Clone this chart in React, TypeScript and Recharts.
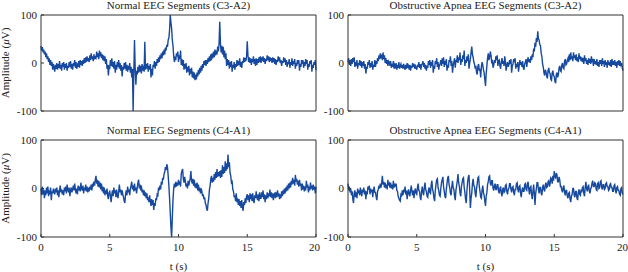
import { LineChart, Line, XAxis, YAxis } from 'recharts';

// sampled every 0.05 s, 0..20 s
const SAMPLE_STEP = 0.05;

const c3Normal = [
  35, 26, 33, 22, 28, 18, 24, 12, 20, 8, 14, 2, 10, -4, 6, -6, 2, -14, -2, -10,
  -18, -4, -12, 0, -14, -2, -10, 4, -12, -4, -16, 0, -8, 2, -14, -2, -10, 0, -16, -6,
  -10, 2, -8, 4, -12, -2, -14, 0, -6, 6, -10, 2, -12, -4, -8, 4, -10, 6, -4, 4,
  -6, 6, -2, 10, 0, 12, 2, 14, 4, 10, 2, 16, 6, 20, 8, 14, 4, 18, 8, 12,
  10, 24, 12, 20, 8, 26, 14, 22, 10, 18, 6, 16, 4, 14, -2, 8, -12, -4, -26, -8,
  -10, 6, -6, 10, -8, 2, -12, 4, -20, -4, -14, 2, -8, 6, -12, 0, -16, -4, -28, -8,
  -14, 0, -12, 2, -16, -4, -18, -6, -14, 0, -20, -8, -30, -12, -100, -20, 48, -10, -45, -16,
  -24, -8, -20, -4, -18, -6, -22, -2, -16, -6, -18, 44, -14, -2, -12, 0, -18, -6, -14, -2,
  -30, -12, -26, -4, -8, 4, -12, 2, -6, 8, 0, 12, 2, 16, 8, 20, 10, 24, 16, 28,
  18, 32, 26, 38, 34, 48, 52, 68, 100, 84, 72, 48, 36, 14, 2, 10, 6, 20, 14, 24,
  2, 16, 8, 26, -4, 8, -6, 6, -14, -2, -12, 0, -20, -8, -18, -6, -26, -12, -22, -10,
  -30, -18, -32, -20, -36, -24, -34, -20, -28, -14, -24, -10, -20, -6, -16, -2, -10, 4, -4, 6,
  -6, 6, -2, 10, 2, 14, 4, 18, 6, 20, 10, 24, 12, 28, 16, 26, 18, 34, 24, 40,
  86, 40, 22, 36, 18, 34, 12, 26, 8, 20, -6, 8, -4, 6, -12, 2, -8, 4, -18, -4,
  -10, 2, -14, -2, -8, 6, -6, 4, -4, 10, -8, 2, -10, 4, 0, 12, 2, 10, 4, 14,
  45, 16, 2, 12, 0, 10, -4, 8, 2, 14, -2, 8, -6, 10, -4, 8, 0, 12, 2, 14,
  0, 12, 4, 14, 2, 10, -2, 8, 4, 16, 6, 14, 2, 12, 4, 10, 0, 12, 2, 10,
  -2, 8, -4, 6, 2, 14, 4, 12, 0, 6, -6, 4, 0, 12, 2, 10, -4, 6, -8, 2,
  -2, 8, -10, 2, -4, 10, -6, 4, -2, 8, -12, 0, -6, 6, -2, 6, -16, -2, -8, 6,
  -2, 6, -10, 2, -6, 8, -2, 6, -14, -2, -8, 4, -2, 6, -18, -4, -10, 2, -4, 6,
  -15,
];

const c3Apnea = [
  2, 10, -4, 6, -6, 8, -2, 10, 2, 12, -8, 2, -6, 6, -12, 0, -4, 6, -6, 4,
  -10, 2, -6, 4, -12, -2, -22, -8, -12, 2, -4, 6, -10, 0, -8, 4, -14, -4, -8, 6,
  -8, 4, -2, 10, 4, 16, 8, 20, 10, 14, 6, 22, 8, 16, 0, 10, -2, 6, -6, 4,
  2, -6, 4, -10, -2, -8, 4, -12, -4, -8, 0, -14, -4, -10, 2, -12, -6, -2, -10, -4,
  -12, -2, -8, -14, -4, -12, 0, -10, -6, -14, -4, -16, -6, -10, 0, -8, -2, -12, -6, -10,
  -14, -4, -8, 2, -10, -2, -14, -4, -2, 4, -8, 0, -12, -4, -16, -6, -10, 4, -4, 6,
  -10, 2, -6, 6, -20, -6, -12, 4, -2, 10, -8, 2, -14, -4, -2, 6, -6, 10, -2, 12,
  -8, 4, -4, 8, -16, -4, -10, 6, 2, 14, -6, 4, -20, -6, 2, 10, -10, 6, 2, 16,
  0, 12, 6, 22, -4, 8, 2, 16, 8, 26, -6, 6, 0, 14, 4, 18, -12, 0, 8, 22,
  34, 18, 12, 2, -2, -12, -6, -20, -24, -6, -2, -16, -12, -30, -8, 2, -4, -14, -20, -34,
  -48, -22, -6, 10, 20, 6, 12, 24, 16, 2, 4, -10, -4, 6, 0, 14, 6, 16, -6, 4,
  6, -6, -12, 2, 10, -2, 4, -6, 14, 2, -16, -4, 2, -8, -4, 6, -2, 8, -20, -6,
  -2, 8, 2, 10, -12, -2, -8, 2, -18, -6, 6, -4, 2, -8, 4, -10, -14, -2, 2, 8,
  -8, 4, 12, 2, 8, 0, 14, 6, 18, 12, 30, 24, 42, 34, 52, 44, 66, 50, 48, 38,
  36, 20, 14, -2, -8, -20, -26, -14, -18, -28, -32, -16, -10, -20, -22, -34, -36, -20, -16, -26,
  -28, -38, -42, -24, -20, -30, -24, -10, -6, -16, -18, -4, 0, -10, -12, 4, 8, -4, -2, 6,
  10, 2, 18, 6, 22, 8, 14, 4, 22, 10, 16, 6, 18, 4, 12, 2, 20, 8, 14, 4,
  12, 2, 10, -2, 16, 4, 10, -2, 6, -4, 10, 0, 8, -2, 14, 4, 6, -6, 8, -2,
  4, -4, 8, -6, 2, -8, 6, -2, 6, -6, 10, -2, 4, -8, 6, -4, 2, -10, 6, -4,
  2, -6, 6, -8, 8, -4, 4, -4, 6, -6, 2, -10, 4, -4, 6, -6, 4, -4, 0, -10,
  -16,
];

const c4Normal = [
  0, -14, 4, -12, -2, -20, -4, -14, 2, -10, 4, -16, -4, -12, 2, -24, -6, -10, 0, -8,
  -12, 0, -8, 2, -14, -4, -18, -2, 6, -8, -2, -12, -4, -14, 2, -6, 4, -10, 8, -4,
  -6, 2, -16, -4, 2, -8, -2, 6, -4, 10, -2, -10, 0, -12, 6, -4, 4, -6, 12, 0,
  -4, 6, -10, 2, -4, 8, -6, 4, -8, 2, -6, 4, -2, 8, -4, 10, 4, 14, 6, 18,
  26, 10, 18, 4, 16, 2, 12, -2, 10, -6, 4, -10, 2, -14, -4, -8, 0, -16, -22, -8,
  -6, -16, -28, -12, -4, -16, 2, -10, -4, -18, -2, -14, -20, -6, 8, -8, -2, -14, -4, -12,
  -18, -26, -30, -12, -4, -14, 4, -8, -2, -14, 0, 6, 14, -2, 6, -6, 10, -4, 2, -10,
  2, 12, 18, 0, 8, -4, 6, -8, -2, -14, -4, -16, -8, -20, -10, -24, -18, -28, -14, -26,
  -36, -22, -34, -24, -44, -30, -36, -20, -24, -12, -14, 2, -4, 6, -2, 14, 8, 22, 18, 30,
  34, 44, 38, 50, 44, 26, 6, -20, -50, -80, -100, -60, -24, 0, 10, 2, 14, 4, 12, 6,
  18, 8, 14, 4, 30, 36, 40, 20, 12, 24, 14, 4, 10, 0, 16, 6, 14, 20, 36, 16,
  10, 20, 6, 18, 2, 10, 0, 12, -4, 8, -6, 2, -10, 0, -6, -16, -12, -22, -18, -30,
  -34, -42, -46, -30, -20, -2, 6, 20, 26, 12, 22, 14, 30, 18, 34, 22, 40, 24, 34, 26,
  36, 22, 38, 24, 48, 30, 44, 32, 56, 36, 52, 40, 70, 44, 54, 32, 26, 12, 14, -2,
  -6, -18, -14, -26, -10, -28, -20, -34, -22, -36, -26, -40, -24, -38, -46, -28, -34, -20, -30, -16,
  -12, -24, -14, -28, -10, -22, -12, -26, -10, -24, -30, -14, -20, -6, -18, -24, -12, -26, -8, -20,
  -20, -8, -18, -4, -22, -12, -28, -14, -22, -8, -20, -10, -16, -2, -18, -8, -20, -10, -24, -12,
  -10, -20, -8, -18, -4, -16, -10, -22, -12, -20, -6, -16, -4, -12, 0, -10, 2, -6, 6, -4,
  10, 0, 12, 2, 16, 8, 22, 10, 18, 6, 28, 14, 20, 8, 16, 4, 18, 6, 10, -4,
  10, -2, 6, -6, 4, -4, 16, 2, 8, -8, 4, -4, 12, 0, 6, -4, 8, -2, 4, -10,
  4,
];

const c4Apnea = [
  10, -4, 4, -8, 0, -14, -6, -22, -30, -10, -4, -18, -8, -20, 0, -10, -4, -14, 2, -8,
  -16, -2, -8, 2, -12, -4, -22, -6, -12, 4, -2, 6, -12, 0, -8, -2, -18, -4, 4, -8,
  -8, -18, -24, -6, -2, 6, 0, 10, 2, 12, 26, 8, 14, 2, 12, 4, 8, -2, 18, 6,
  10, 2, 12, 0, 8, -2, 16, 2, 10, 4, 10, -4, -6, -16, -20, -24, -26, -12, -14, -4,
  -14, -2, -8, 4, -12, -4, -22, -8, -2, -12, -16, -4, 6, -6, -14, -4, -20, -6, 0, -10,
  -12, 2, 10, -4, -6, -18, -24, -6, 4, -8, -14, 2, 12, -2, -6, -16, -18, -4, 2, -8,
  -10, 8, 16, -2, -8, -20, -26, -4, 8, 18, 20, 2, -4, -14, -16, 0, 12, 18, 24, 4,
  -6, -16, -20, -2, 10, 22, 26, 8, 2, -10, -14, 4, 16, 2, -2, -16, -24, -4, 6, 16,
  30, 12, 4, -10, -16, 4, 12, 20, 22, 2, -8, -22, -30, -4, 14, 24, 28, -4, -40, -20,
  -10, 10, 20, 6, 4, -10, -18, 0, 10, 22, 24, 4, -6, -18, -20, -4, 6, -8, -14, -26,
  -36, -16, -8, 8, 14, 24, 26, 10, 6, 16, 16, 0, -4, 6, 10, -2, -2, 8, 8, -6,
  -10, 0, 4, -10, -16, -2, 2, -8, -6, 6, 8, -6, -12, -2, 0, 10, 10, -2, -8, 2,
  4, -8, -14, -2, -2, 10, 12, -2, -8, 4, 6, -10, -18, -4, 2, -6, -6, 8, 10, -2,
  -4, 10, 14, -2, -12, 2, 4, -12, -22, -6, 8, -10, -34, -10, 0, 12, 12, -2, -10, 2,
  2, -10, -14, 2, 8, -2, -6, 8, 12, 2, 4, 14, 16, 4, 10, 22, 20, 10, 26, 16,
  36, 24, 22, 32, 28, 14, 14, 24, 18, 4, 4, -4, -8, 2, 6, -8, -14, -4, -4, -16,
  -20, -10, -8, -22, -28, -16, -12, 0, 0, -14, -18, -6, -6, -20, -24, -8, -2, -12, -14, -2,
  -8, 2, 4, -10, -16, 2, 14, 0, -6, 4, 8, -6, -10, 0, 2, 12, 16, 4, 4, 12,
  10, -2, -4, 10, 12, 0, 2, 14, 16, 2, -2, 8, 8, -2, 0, 10, 12, 4, 4, -4,
  -2, 8, 10, 2, 2, -6, -6, 6, 8, -4, -10, 2, 4, -4, -4, -12, -14, 0, 2, -10,
  -12,
];

const titles = [
  'Normal EEG Segments (C3-A2)',
  'Obstructive Apnea EEG Segments (C3-A2)',
  'Normal EEG Segments (C4-A1)',
  'Obstructive Apnea EEG Segments (C4-A1)',
];

const xTicks = [0, 5, 10, 15, 20];
const yTicks = [-100, 0, 100];

const FONT = '"Liberation Serif", "DejaVu Serif", serif';
const LINE = '#174a9e';
const FRAME = '#333';

const toRows = (values: number[]) =>
  values.map((v, i) => ({ t: +(i * SAMPLE_STEP).toFixed(2), v }));

interface PanelProps {
  values: number[];
  title: string;
  left: number;
  top: number;
  width: number;
  height: number;
  marginTop: number;
  plotH: number;
  yAxisWidth: number;
  marginRight: number;
  bottomRow: boolean;
  showYLabel: boolean;
}

function Panel({ values, title, left, top, width, height, marginTop, plotH, yAxisWidth, marginRight, bottomRow, showYLabel }: PanelProps) {
  const tickStyle = { fontSize: 11, fill: '#222', fontFamily: FONT };
  const xAxisH = height - marginTop - 1 - plotH;
  return (
    <div style={{ position: 'absolute', left, top }}>
      <LineChart
        width={width}
        height={height}
        data={toRows(values)}
        margin={{ top: marginTop, right: marginRight, bottom: 0, left: 0 }}
      >
        <XAxis
          xAxisId="top"
          orientation="top"
          dataKey="t"
          type="number"
          domain={[0, 20]}
          ticks={xTicks}
          height={1}
          tick={false}
          tickSize={-3}
          axisLine={{ stroke: FRAME }}
          tickLine={{ stroke: FRAME }}
          label={{ value: title, position: 'top', offset: 5.5, style: { fontSize: 11, fill: '#222', fontFamily: FONT } }}
        />
        <XAxis
          xAxisId="bottom"
          dataKey="t"
          type="number"
          domain={[0, 20]}
          ticks={xTicks}
          height={xAxisH}
          tick={bottomRow ? tickStyle : false}
          tickSize={-3}
          tickMargin={9}
          axisLine={{ stroke: FRAME }}
          tickLine={{ stroke: FRAME }}
          label={bottomRow ? { value: 't (s)', position: 'insideBottom', offset: 2, style: { fontSize: 11, fill: '#222', fontFamily: FONT } } : undefined}
        />
        <YAxis
          yAxisId="left"
          type="number"
          domain={[-100, 100]}
          ticks={yTicks}
          width={yAxisWidth}
          tick={tickStyle}
          tickSize={-3}
          tickMargin={7}
          axisLine={{ stroke: FRAME }}
          tickLine={{ stroke: FRAME }}
          allowDataOverflow
          label={showYLabel ? {
            content: (p: any) => {
              const vb = p.viewBox || {};
              const cy = vb.y + vb.height / 2;
              const cx = 9;
              return (
                <text x={cx} y={cy} transform={`rotate(-90, ${cx}, ${cy})`} textAnchor="middle" fontSize={11} fill="#222" fontFamily={FONT}>
                  Amplitude (<tspan fontStyle="italic">μ</tspan>V)
                </text>
              );
            },
          } : undefined}
        />
        <YAxis
          yAxisId="right"
          orientation="right"
          type="number"
          domain={[-100, 100]}
          ticks={yTicks}
          width={1}
          tick={false}
          tickSize={-3}
          axisLine={{ stroke: FRAME }}
          tickLine={{ stroke: FRAME }}
        />
        <Line
          xAxisId="bottom"
          yAxisId="left"
          dataKey="v"
          type="linear"
          stroke={LINE}
          strokeWidth={1.4}
          dot={false}
          isAnimationActive={false}
        />
      </LineChart>
    </div>
  );
}

export default function App() {
  return (
    <div style={{ position: 'absolute', left: 0, top: 0, width: 628, height: 272, background: '#fff', fontFamily: FONT }}>
      <Panel values={c3Normal} title={titles[0]} left={0} top={0} width={320} height={136} marginTop={14} plotH={96} yAxisWidth={41} marginRight={3} bottomRow={false} showYLabel />
      <Panel values={c3Apnea} title={titles[1]} left={310} top={0} width={318} height={136} marginTop={14} plotH={96} yAxisWidth={38} marginRight={4} bottomRow={false} showYLabel={false} />
      <Panel values={c4Normal} title={titles[2]} left={0} top={110} width={320} height={162} marginTop={29} plotH={97} yAxisWidth={41} marginRight={3} bottomRow showYLabel />
      <Panel values={c4Apnea} title={titles[3]} left={310} top={110} width={318} height={162} marginTop={29} plotH={97} yAxisWidth={38} marginRight={4} bottomRow showYLabel={false} />
    </div>
  );
}
